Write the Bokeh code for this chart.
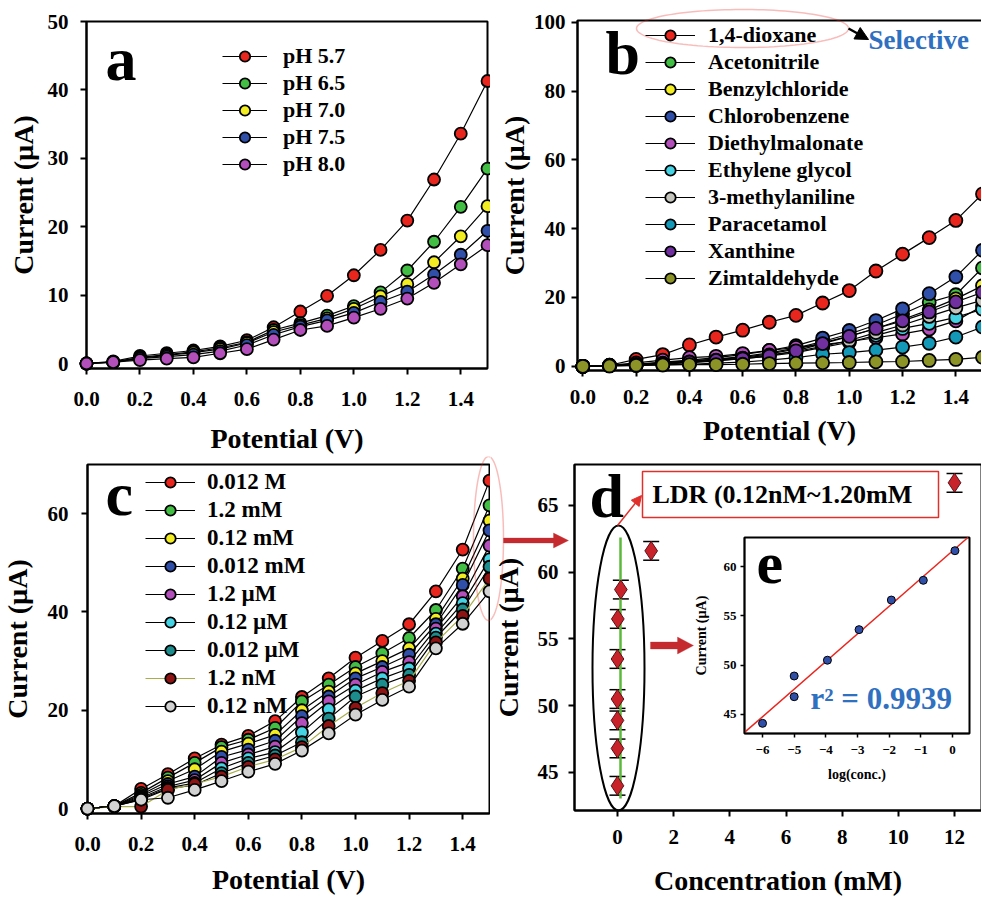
import numpy as np
from bokeh.plotting import figure
from bokeh.models import (Range1d, FixedTicker, NumeralTickFormatter, Legend, LegendItem,
                          Label, Arrow, NormalHead, PolyAnnotation, BoxAnnotation, Whisker,
                          TeeHead, LinearAxis, ColumnDataSource)
from bokeh.layouts import row, column
from bokeh.embed import file_html
from bokeh.resources import INLINE

# ---------------- data ----------------
potential = [0.0, 0.1, 0.2, 0.3, 0.4, 0.5, 0.6, 0.7, 0.8, 0.9, 1.0, 1.1, 1.2, 1.3, 1.4, 1.5]

# panel a : pH study
ph_labels = ["pH 5.7", "pH 6.5", "pH 7.0", "pH 7.5", "pH 8.0"]
ph_57 = [0.0, 0.3, 1.1, 1.5, 1.9, 2.5, 3.4, 5.3, 7.6, 9.9, 12.9, 16.6, 20.9, 26.9, 33.6, 41.3]
ph_65 = [0.0, 0.2, 0.9, 1.3, 1.7, 2.3, 3.1, 4.9, 5.9, 7.0, 8.4, 10.4, 13.6, 17.8, 22.9, 28.5]
ph_70 = [0.0, 0.2, 0.8, 1.2, 1.6, 2.1, 3.0, 4.6, 5.6, 6.6, 8.0, 9.8, 11.6, 14.8, 18.6, 23.0]
ph_75 = [0.0, 0.2, 0.7, 1.0, 1.3, 1.8, 2.7, 4.2, 5.4, 6.3, 7.4, 9.0, 10.5, 13.0, 15.9, 19.4]
ph_80 = [0.0, 0.2, 0.5, 0.7, 0.9, 1.5, 2.1, 3.5, 4.9, 5.5, 6.7, 8.0, 9.5, 11.8, 14.5, 17.3]

# panel b : selectivity
chem_labels = ["1,4-dioxane", "Acetonitrile", "Benzylchloride", "Chlorobenzene", "Diethylmalonate",
               "Ethylene glycol", "3-methylaniline", "Paracetamol", "Xanthine", "Zimtaldehyde"]
dioxane = [0.0, 0.3, 2.0, 3.4, 6.2, 8.5, 10.5, 12.8, 14.8, 18.4, 22.0, 27.7, 32.6, 37.4, 42.4, 50.1]
acetonitrile = [0.0, 0.2, 0.6, 1.1, 1.6, 2.1, 2.8, 3.9, 5.3, 7.2, 9.4, 12.0, 15.2, 18.6, 20.8, 28.6]
benzylchloride = [0.0, 0.2, 0.5, 1.0, 1.5, 2.0, 2.6, 3.6, 5.0, 6.8, 8.8, 11.0, 13.6, 16.4, 19.6, 23.4]
chlorobenzene = [0.0, 0.2, 0.6, 1.2, 1.8, 2.5, 3.4, 4.6, 6.0, 8.2, 10.4, 13.3, 16.7, 21.1, 26.0, 33.7]
diethylmalonate = [0.0, 0.3, 1.0, 1.8, 2.5, 2.9, 3.7, 4.6, 5.5, 6.3, 7.2, 8.3, 9.4, 10.8, 13.2, 17.5]
ethylene_glycol = [0.0, 0.2, 0.4, 0.7, 1.0, 1.6, 2.2, 3.0, 4.0, 5.5, 7.0, 9.0, 11.0, 12.5, 14.2, 16.6]
methylaniline = [0.0, 0.2, 0.5, 0.9, 1.3, 1.8, 2.4, 3.3, 4.3, 5.8, 7.5, 9.8, 12.0, 14.5, 17.0, 19.2]
paracetamol = [0.0, 0.1, 0.2, 0.4, 0.6, 0.9, 1.2, 1.8, 2.5, 3.5, 4.0, 4.7, 5.6, 6.7, 8.5, 11.4]
xanthine = [0.0, 0.2, 0.4, 0.8, 1.2, 1.7, 2.2, 3.0, 4.5, 6.6, 8.7, 11.0, 13.2, 15.8, 18.7, 21.5]
zimtaldehyde = [0.0, 0.1, 0.3, 0.4, 0.5, 0.5, 0.6, 0.8, 0.9, 1.0, 1.1, 1.3, 1.4, 1.7, 2.0, 2.6]

# panel c : concentration study
conc_labels = ["0.012 M", "1.2 mM", "0.12 mM", "0.012 mM", "1.2 \u00b5M", "0.12 \u00b5M",
               "0.012 \u00b5M", "1.2 nM", "0.12 nM"]
c_0012M = [0.0, 0.5, 4.0, 7.0, 10.2, 13.0, 14.8, 17.8, 22.7, 26.5, 30.7, 34.1, 37.5, 44.2, 52.7, 66.7]
c_12mM = [0.0, 0.5, 3.2, 6.3, 9.3, 12.5, 14.0, 16.4, 21.8, 25.2, 28.8, 31.6, 34.7, 40.4, 48.8, 61.7]
c_012mM = [0.0, 0.5, 2.8, 5.6, 8.0, 11.6, 13.2, 15.0, 20.0, 23.8, 27.5, 30.0, 32.6, 38.6, 46.8, 58.6]
c_0012mM = [0.0, 0.5, 2.5, 5.0, 6.5, 10.5, 12.0, 13.8, 18.8, 22.8, 26.5, 28.8, 31.3, 37.5, 45.5, 56.6]
c_12uM = [0.0, 0.5, 2.2, 4.5, 5.8, 9.3, 11.0, 12.6, 17.4, 21.8, 25.2, 27.8, 29.8, 36.6, 43.2, 53.5]
c_012uM = [0.0, 0.5, 2.0, 4.2, 5.2, 8.2, 10.2, 11.5, 15.5, 20.2, 24.0, 26.5, 28.5, 35.6, 41.8, 50.7]
c_0012uM = [0.0, 0.5, 1.8, 4.0, 4.8, 7.2, 9.3, 10.8, 13.5, 18.3, 22.8, 25.2, 27.2, 34.8, 40.5, 49.2]
c_12nM = [0.0, 0.4, 0.4, 3.8, 5.0, 6.5, 8.5, 10.0, 12.5, 16.8, 20.5, 23.5, 26.0, 33.8, 39.2, 46.8]
c_012nM = [0.0, 0.5, 1.8, 2.2, 3.8, 5.6, 7.5, 9.1, 11.8, 15.3, 19.1, 22.1, 24.8, 32.6, 37.6, 44.2]

# panel d : calibration (concentration in mM)
cal_conc = [1.2e-7, 1.2e-6, 1.2e-5, 1.2e-4, 1.2e-3, 0.012, 0.12, 1.2, 12.0]
cal_current = [44.0, 46.8, 48.9, 50.5, 53.5, 56.5, 58.7, 61.6, 66.7]
cal_err = [0.7, 0.7, 0.7, 0.7, 0.7, 0.7, 0.7, 0.7, 0.7]

# panel e : inset, log(conc.)
log_conc = [-6.0, -5.0, -5.0, -3.95, -2.95, -1.93, -0.92, 0.08]
log_current = [44.1, 46.8, 48.9, 50.5, 53.6, 56.6, 58.6, 61.6]

# tick values
pot_ticks = [0.0, 0.2, 0.4, 0.6, 0.8, 1.0, 1.2, 1.4]
a_yticks = [0, 10, 20, 30, 40, 50]
b_yticks = [0, 20, 40, 60, 80, 100]
c_yticks = [0, 20, 40, 60]
d_xticks = [0, 2, 4, 6, 8, 10, 12]
d_yticks = [45, 50, 55, 60, 65]
e_xticks = [-6, -5, -4, -3, -2, -1, 0]
e_yticks = [45, 50, 55, 60]

# ---------------- styles / geometry ----------------
SERIF = "Liberation Serif"
RED = "#E8261E"; GREEN = "#43BE45"; YELLOW = "#F2EC22"; BLUE = "#2F4FA8"; MAGENTA = "#B24FBA"
CYAN = "#45D2E2"; GREY = "#C4C4BC"; TEAL = "#1398B8"; PURPLE = "#7030A0"; OLIVE = "#8C9428"
DTEAL = "#1C8C8C"; DRED = "#8E1414"; LGREY = "#D2D2D2"
BLUE_TXT = "#2F70C0"; ARROW_RED = "#C42A2E"; LINE_RED = "#E0302C"
BASELINE_FIX = 0.31   # label baseline correction (fraction of font size)

# canvases (page px: left, right, top, bottom)
CA = (0, 490, 0, 456)
CB = (490, 981, 0, 456)
CC = (0, 490, 456, 898)
CD = (490, 981, 456, 898)
# visible axes boxes (page px) and their data ranges
FA = dict(l=86, r=487, t=21, b=368, xr=(0.0, 1.5), yr=(-0.73, 50.0))
FB = dict(l=577, r=982, t=20, b=370, xr=(-0.02, 1.5), yr=(-1.22, 100.5))
FC = dict(l=87, r=489, t=464, b=813, xr=(0.0, 1.5), yr=(-1.0, 70.0))
FD = dict(l=574, r=981, t=464, b=810, xr=(-1.53, 12.96), yr=(42.15, 68.07))


def tx(F, px):
    return F["xr"][0] + (px - F["l"]) / (F["r"] - F["l"]) * (F["xr"][1] - F["xr"][0])


def ty(F, py):
    return F["yr"][1] - (py - F["t"]) / (F["b"] - F["t"]) * (F["yr"][1] - F["yr"][0])


def style_axis(ax, tick_size, label_size, tick_out, lab_so, axl_so, lw=2):
    ax.axis_line_color = "black"; ax.axis_line_width = lw
    ax.major_tick_line_color = "black"; ax.major_tick_line_width = lw
    ax.major_tick_out = tick_out; ax.major_tick_in = 0
    ax.minor_tick_line_color = None
    ax.major_label_text_font = SERIF; ax.major_label_text_font_style = "bold"
    ax.major_label_text_font_size = f"{tick_size}px"; ax.major_label_text_color = "black"
    ax.axis_label_text_font = SERIF; ax.axis_label_text_font_style = "bold"
    ax.axis_label_text_font_size = f"{label_size}px"; ax.axis_label_text_color = "black"
    ax.major_label_standoff = lab_so; ax.axis_label_standoff = axl_so


def make_panel(C, F):
    cl, cr, ct, cb = C
    (x0, x1), (y0, y1) = F["xr"], F["yr"]
    sx = (F["r"] - F["l"]) / (x1 - x0)
    sy = (F["b"] - F["t"]) / (y1 - y0)
    xr = Range1d(x0 - (F["l"] - cl) / sx, x1 + (cr - F["r"]) / sx)
    yr = Range1d(y0 - (cb - F["b"]) / sy, y1 + (F["t"] - ct) / sy)
    p = figure(width=cr - cl, height=cb - ct, x_range=xr, y_range=yr,
               output_backend="svg", toolbar_location=None, tools="",
               min_border_left=0, min_border_right=0, min_border_top=0, min_border_bottom=0)
    p.grid.visible = False
    p.outline_line_color = None
    p.background_fill_color = "white"; p.border_fill_color = "white"
    p.xaxis.fixed_location = y0; p.xaxis.bounds = (x0, x1)
    p.yaxis.fixed_location = x0; p.yaxis.bounds = (y0, y1)
    p.xaxis.level = "underlay"; p.yaxis.level = "underlay"
    p.quad(left=[x0], right=[x1], bottom=[y0], top=[y1], fill_color=None,
           line_color="black", line_width=2)
    return p


def add_series(p, x, ys, fills, labels, size, line_colors):
    items = []
    for y, c, lab, lc in zip(ys, fills, labels, line_colors):
        rl = p.line(x, y, line_color=lc, line_width=1.2)
        rs = p.scatter(x, y, size=size, fill_color=c, line_color="black", line_width=1.8)
        items.append(LegendItem(label=lab, renderers=[rl, rs]))
    return items


def make_legend(items, C, glyph_left, first_center, spacing, font=22, glyph_w=45, standoff=14):
    h_eff = 26.2
    n = len(items)
    top = first_center - h_eff / 2
    bottom = top + n * h_eff + (n - 1) * spacing
    return Legend(items=items, location=(glyph_left - C[0], C[3] - bottom),
                  label_text_font=SERIF, label_text_font_style="bold",
                  label_text_font_size=f"{font}px", label_text_color="black",
                  glyph_width=glyph_w, glyph_height=26, label_height=26,
                  label_standoff=standoff, spacing=spacing, padding=0, margin=0,
                  background_fill_alpha=0, border_line_color=None)


def text_label(p, F, px, py, text, size, color="black", xr_name="default", yr_name="default"):
    base = py - BASELINE_FIX * size
    p.add_layout(Label(x=tx(F, px), y=ty(F, base), text=text, text_font=SERIF,
                       text_font_style="bold", text_font_size=f"{size}px",
                       text_color=color, text_baseline="alphabetic"))


def poly_ellipse(p, F, cx, cy, rx, ry, color, lw=1.5):
    t = np.linspace(0, 2 * np.pi, 120)
    xs = [tx(F, v) for v in cx + rx * np.cos(t)]
    ys = [ty(F, v) for v in cy + ry * np.sin(t)]
    p.add_layout(PolyAnnotation(xs=xs, ys=ys, fill_color=None, fill_alpha=0,
                                line_color=color, line_width=lw))


def block_arrow(p, F, x0, x1, yc, shaft, head_h, head_l, color):
    pts = [(x0, yc - shaft), (x1 - head_l, yc - shaft), (x1 - head_l, yc - head_h), (x1, yc),
           (x1 - head_l, yc + head_h), (x1 - head_l, yc + shaft), (x0, yc + shaft)]
    p.add_layout(PolyAnnotation(xs=[tx(F, a) for a, _ in pts], ys=[ty(F, b) for _, b in pts],
                                fill_color=color, fill_alpha=1, line_color=color, line_width=1))


# ---------------- panel a ----------------
pa = make_panel(CA, FA)
style_axis(pa.xaxis[0], 21, 28, 6, 17, 14)
style_axis(pa.yaxis[0], 21, 28, 6, 12, 6)
pa.xaxis.ticker = FixedTicker(ticks=pot_ticks)
pa.xaxis.formatter = NumeralTickFormatter(format="0.0")
pa.yaxis.ticker = FixedTicker(ticks=a_yticks)
pa.xaxis.axis_label = "Potential (V)"
pa.yaxis.axis_label = "Current (\u00b5A)"
items_a = add_series(pa, potential, [ph_57, ph_65, ph_70, ph_75, ph_80],
                     [RED, GREEN, YELLOW, BLUE, MAGENTA], ph_labels, 12, ["black"] * 5)
pa.add_layout(make_legend(items_a, CA, 222, 55, 1, font=22, glyph_w=45, standoff=16))
text_label(pa, FA, 105, 78, "a", 62)

# ---------------- panel b ----------------
pb = make_panel(CB, FB)
style_axis(pb.xaxis[0], 21, 28, 6, 13, 8)
style_axis(pb.yaxis[0], 21, 28, 6, 6, 1)
pb.xaxis.ticker = FixedTicker(ticks=pot_ticks)
pb.xaxis.formatter = NumeralTickFormatter(format="0.0")
pb.yaxis.ticker = FixedTicker(ticks=b_yticks)
pb.xaxis.axis_label = "Potential (V)"
pb.yaxis.axis_label = "Current (\u00b5A)"
items_b = add_series(pb, potential,
                     [dioxane, acetonitrile, benzylchloride, chlorobenzene, diethylmalonate,
                      ethylene_glycol, methylaniline, paracetamol, xanthine, zimtaldehyde],
                     [RED, GREEN, YELLOW, BLUE, MAGENTA, CYAN, GREY, TEAL, PURPLE, OLIVE],
                     chem_labels, 13, ["black"] * 10)
pb.add_layout(make_legend(items_b, CB, 645, 33, 1, font=22, glyph_w=50, standoff=13))
text_label(pb, FB, 605, 72, "b", 62)
poly_ellipse(pb, FB, 742, 28, 106, 19, RED)
pb.add_layout(Arrow(x_start=tx(FB, 848), y_start=ty(FB, 28), x_end=tx(FB, 868), y_end=ty(FB, 39),
                    line_color="black", line_width=2.5,
                    end=NormalHead(size=13, fill_color="black", line_color="black")))
text_label(pb, FB, 868, 48, "Selective", 27, BLUE_TXT)

# ---------------- panel c ----------------
pc = make_panel(CC, FC)
style_axis(pc.xaxis[0], 21, 28, 6, 17, 10)
style_axis(pc.yaxis[0], 21, 28, 6, 13, 12)
pc.xaxis.ticker = FixedTicker(ticks=pot_ticks)
pc.xaxis.formatter = NumeralTickFormatter(format="0.0")
pc.yaxis.ticker = FixedTicker(ticks=c_yticks)
pc.xaxis.axis_label = "Potential (V)"
pc.yaxis.axis_label = "Current (\u00b5A)"
items_c = add_series(pc, potential,
                     [c_0012M, c_12mM, c_012mM, c_0012mM, c_12uM, c_012uM, c_0012uM, c_12nM, c_012nM],
                     [RED, GREEN, YELLOW, BLUE, MAGENTA, CYAN, DTEAL, DRED, LGREY],
                     conc_labels, 12,
                     ["black"] * 7 + ["#A8AE4C", "black"])
pc.add_layout(make_legend(items_c, CC, 145, 480, 2, font=23, glyph_w=50, standoff=12))
text_label(pc, FC, 105, 513, "c", 62)
poly_ellipse(pc, FC, 488, 538, 15, 82, RED)

# ---------------- panel d ----------------
pd_ = make_panel(CD, FD)
style_axis(pd_.xaxis[0], 21, 28, 6, 13, 18)
style_axis(pd_.yaxis[0], 21, 28, 6, 10, 11)
pd_.xaxis.ticker = FixedTicker(ticks=d_xticks)
pd_.yaxis.ticker = FixedTicker(ticks=d_yticks)
pd_.xaxis.axis_label = "Concentration (mM)"
pd_.yaxis.axis_label = "Current (\u00b5A)"

# decorations linking c and d
poly_ellipse(pd_, FD, 488, 538, 15, 82, RED)
block_arrow(pd_, FD, 503, 568, 540, 2.5, 7.5, 15, ARROW_RED)
block_arrow(pd_, FD, 650, 693, 645, 3.5, 8.5, 16, ARROW_RED)

# green LDR line and black ellipse
pd_.segment(x0=[tx(FD, 620)], y0=[ty(FD, 798)], x1=[tx(FD, 620)], y1=[ty(FD, 537)],
            line_color="#5CB83C", line_width=2.5)
pd_.ellipse(x=[tx(FD, 618)], y=[ty(FD, 667.5)],
            width=52 / (FD["r"] - FD["l"]) * (FD["xr"][1] - FD["xr"][0]),
            height=285 / (FD["b"] - FD["t"]) * (FD["yr"][1] - FD["yr"][0]),
            fill_color=None, line_color="black", line_width=2)

src = ColumnDataSource(dict(x=cal_conc, y=cal_current,
                            upper=[c + e for c, e in zip(cal_current, cal_err)],
                            lower=[c - e for c, e in zip(cal_current, cal_err)]))
pd_.add_layout(Whisker(base="x", upper="upper", lower="lower", source=src, dimension="height",
                       line_color="black", line_width=1.5,
                       upper_head=TeeHead(size=16, line_color="black", line_width=1.5),
                       lower_head=TeeHead(size=16, line_color="black", line_width=1.5)))
pd_.scatter("x", "y", source=src, marker="diamond", size=19, fill_color="#C8232B",
            line_color="#5A1018", line_width=1)

pd_.add_layout(BoxAnnotation(left=tx(FD, 642), right=tx(FD, 938), top=ty(FD, 471), bottom=ty(FD, 517),
                             fill_color=None, fill_alpha=0, line_color=LINE_RED, line_width=1.5,
                             line_alpha=1))
text_label(pd_, FD, 652, 502, "LDR (0.12nM~1.20mM", 26)
pd_.add_layout(Arrow(x_start=tx(FD, 617), y_start=ty(FD, 525), x_end=tx(FD, 641), y_end=ty(FD, 495),
                     line_color=LINE_RED, line_width=1.5,
                     end=NormalHead(size=10, fill_color=LINE_RED, line_color=LINE_RED)))
text_label(pd_, FD, 589, 515, "d", 62)

# ---------------- inset e (drawn inside d through extra ranges) ----------------
INS = dict(l=744, r=969, t=537, b=733, xr=(-6.57, 0.54), yr=(43.07, 62.94))
pd_.extra_x_ranges = {"ex": Range1d(tx(INS, CD[0]), tx(INS, CD[1]))}
pd_.extra_y_ranges = {"ey": Range1d(ty(INS, CD[3]), ty(INS, CD[2]))}
(ix0, ix1), (iy0, iy1) = INS["xr"], INS["yr"]
pd_.quad(left=[ix0], right=[ix1], bottom=[iy0], top=[iy1],
         x_range_name="ex", y_range_name="ey", fill_color="white", line_color="black", line_width=2)

m, b0 = np.polyfit(log_conc, log_current, 1)
x_lo = max(ix0, (iy0 - b0) / m)
x_hi = min(ix1, (iy1 - b0) / m)
pd_.line([x_lo, x_hi], [m * x_lo + b0, m * x_hi + b0], x_range_name="ex", y_range_name="ey",
         line_color=RED, line_width=1.5)
pd_.scatter(log_conc, log_current, x_range_name="ex", y_range_name="ey", size=8,
            fill_color=BLUE, line_color="black", line_width=1)

iax = LinearAxis(x_range_name="ex", y_range_name="ey", fixed_location=iy0, bounds=(ix0, ix1),
                 ticker=FixedTicker(ticks=e_xticks), axis_label="log(conc.)")
style_axis(iax, 13, 14, 4, 8, 10, lw=1.5)
pd_.add_layout(iax, "below")
iay = LinearAxis(x_range_name="ex", y_range_name="ey", fixed_location=ix0, bounds=(iy0, iy1),
                 ticker=FixedTicker(ticks=e_yticks), axis_label="Current (\u00b5A)")
style_axis(iay, 13, 14, 4, 4, 12, lw=1.5)
pd_.add_layout(iay, "left")

text_label(pd_, FD, 756, 582, "e", 60)
text_label(pd_, FD, 810, 708, "r\u00b2 = 0.9939", 31, BLUE_TXT)

layout = column(row(pa, pb), row(pc, pd_))
open("out.html", "w").write(file_html(layout, INLINE))
